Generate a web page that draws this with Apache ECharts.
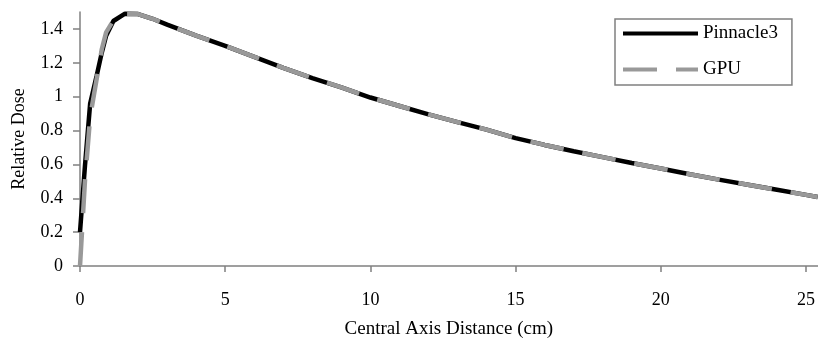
<!DOCTYPE html>
<html>
<head>
<meta charset="utf-8">
<script src="https://cdn.jsdelivr.net/npm/echarts@6/dist/echarts.min.js"></script>
<style>
  html, body { margin: 0; padding: 0; background: #fff; }
  #doseChart { width: 818px; height: 344px; }
</style>
</head>
<body>
<div id="doseChart"></div>
<script>
// depth along central axis (cm)
var distance = [0, 0.17, 0.35, 0.57, 0.75, 0.9, 1.15, 1.55, 2, 2.5, 3, 4, 5, 6, 7, 8, 9, 10, 11, 12, 13, 14, 15, 16, 17, 18, 19, 20, 21, 22, 23, 24, 25, 25.4];
var pinnacle = [0.2, 0.59, 0.96, 1.12, 1.26, 1.36, 1.447, 1.49, 1.488, 1.46, 1.425, 1.36, 1.30, 1.235, 1.17, 1.11, 1.055, 0.995, 0.945, 0.895, 0.85, 0.805, 0.755, 0.715, 0.678, 0.643, 0.608, 0.576, 0.542, 0.51, 0.48, 0.45, 0.42, 0.408];
var gpu = [0, 0.5, 0.88, 1.1, 1.28, 1.38, 1.45, 1.49, 1.488, 1.46, 1.425, 1.36, 1.30, 1.235, 1.17, 1.11, 1.055, 0.995, 0.945, 0.895, 0.85, 0.805, 0.755, 0.715, 0.678, 0.643, 0.608, 0.576, 0.542, 0.51, 0.48, 0.45, 0.42, 0.408];
var xTicks = [0, 5, 10, 15, 20, 25];
var yTicks = [0, 0.2, 0.4, 0.6, 0.8, 1, 1.2, 1.4];

var serif = "'Liberation Serif', 'DejaVu Serif', serif";
var axisGray = "#808080";

function pairs(ys) {
  return distance.map(function (d, i) { return [d, ys[i]]; });
}

var chart = echarts.init(document.getElementById("doseChart"));
var option = {
  animation: false,
  backgroundColor: "#fff",
  grid: { left: 80, right: 0, top: 12, bottom: 76 },
  legend: {
    orient: "vertical",
    left: 615,
    top: 19,
    padding: [5, 14, 6, 6],
    itemWidth: 75,
    itemHeight: 14,
    itemGap: 17,
    borderColor: axisGray,
    borderWidth: 1.5,
    backgroundColor: "#fff",
    itemStyle: { opacity: 0 }, // hide the symbol, keep only the line
    lineStyle: { width: 4 },
    textStyle: { fontFamily: serif, fontSize: 19, color: "#000" },
    data: ["Pinnacle3", "GPU"]
  },
  xAxis: {
    type: "value",
    min: 0,
    max: 25.4,
    interval: 5,
    name: "Central Axis Distance (cm)",
    nameLocation: "middle",
    nameGap: 54,
    nameTextStyle: { fontFamily: serif, fontSize: 19, color: "#000" },
    axisLine: { lineStyle: { color: axisGray, width: 1.5 } },
    axisTick: { length: 6, lineStyle: { color: axisGray, width: 1.5 }, customValues: xTicks },
    axisLabel: { fontFamily: serif, fontSize: 18, color: "#000", margin: 25, customValues: xTicks },
    splitLine: { show: false }
  },
  yAxis: {
    type: "value",
    min: 0,
    max: 1.5,
    interval: 0.2,
    name: "Relative Dose",
    nameLocation: "middle",
    nameGap: 52,
    nameTextStyle: { fontFamily: serif, fontSize: 18, color: "#000" },
    axisLine: { show: true, lineStyle: { color: axisGray, width: 1.5 } },
    axisTick: { show: true, length: 7, lineStyle: { color: axisGray, width: 1.5 }, customValues: yTicks },
    axisLabel: { fontFamily: serif, fontSize: 18, color: "#000", margin: 17, customValues: yTicks },
    splitLine: { show: false }
  },
  series: [
    {
      name: "Pinnacle3",
      type: "line",
      data: pairs(pinnacle),
      symbol: "none",
      color: "#000",
      lineStyle: { color: "#000", width: 4.5 }
    },
    {
      name: "GPU",
      type: "line",
      data: pairs(gpu),
      symbol: "none",
      color: "#999999",
      lineStyle: { color: "#999999", width: 4.5, type: [34, 19], cap: "butt" }
    }
  ]
};
chart.setOption(option);
</script>
</body>
</html>
